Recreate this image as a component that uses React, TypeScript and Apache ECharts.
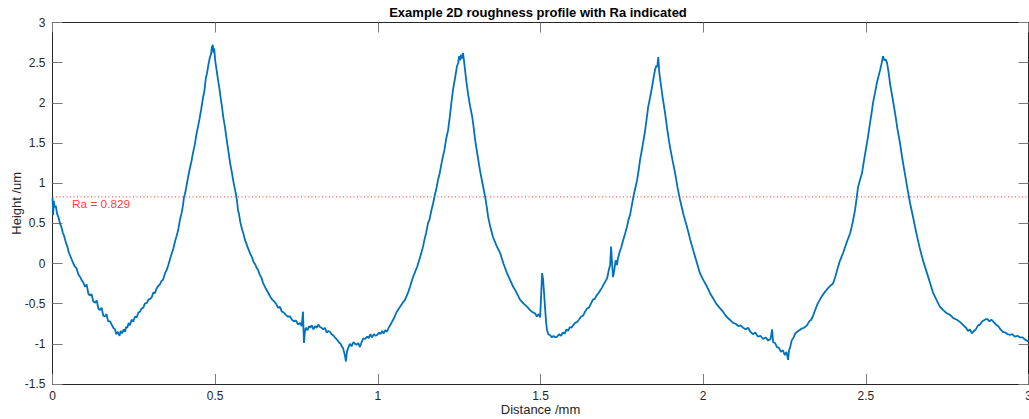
import React, { useEffect, useRef } from "react";
import * as echarts from "echarts";

const TITLE = "Example 2D roughness profile with Ra indicated";
const X_LABEL = "Distance /mm";
const Y_LABEL = "Height /um";
const RA = 0.829;
const RA_LABEL_POS: [number, number] = [0.06, 0.74];
const X_TICKS = [0, 0.5, 1, 1.5, 2, 2.5, 3];
const Y_TICKS = [-1.5, -1, -0.5, 0, 0.5, 1, 1.5, 2, 2.5, 3];

// distance (mm)
const distance: number[] = [
  0.000, 0.002, 0.004, 0.007, 0.010, 0.014, 0.018, 0.023, 0.027, 0.032, 0.036, 0.041, 0.045, 0.050, 0.054, 0.059, 0.064, 0.069, 0.074, 0.079,
  0.085, 0.090, 0.095, 0.100, 0.105, 0.110, 0.115, 0.120, 0.125, 0.131, 0.136, 0.141, 0.146, 0.151, 0.156, 0.161, 0.166, 0.171, 0.177, 0.182,
  0.187, 0.192, 0.196, 0.201, 0.206, 0.210, 0.214, 0.219, 0.223, 0.226, 0.230, 0.234, 0.238, 0.243, 0.248, 0.254, 0.259, 0.264, 0.269, 0.274,
  0.279, 0.284, 0.290, 0.295, 0.300, 0.305, 0.310, 0.315, 0.320, 0.325, 0.330, 0.335, 0.340, 0.346, 0.351, 0.356, 0.361, 0.366, 0.371, 0.377,
  0.382, 0.387, 0.392, 0.397, 0.401, 0.404, 0.408, 0.412, 0.417, 0.422, 0.427, 0.432, 0.437, 0.442, 0.447, 0.452, 0.457, 0.463, 0.467, 0.471,
  0.475, 0.479, 0.484, 0.487, 0.490, 0.493, 0.495, 0.497, 0.500, 0.504, 0.509, 0.513, 0.517, 0.521, 0.525, 0.530, 0.534, 0.538, 0.542, 0.546,
  0.551, 0.556, 0.561, 0.565, 0.568, 0.570, 0.573, 0.577, 0.580, 0.583, 0.587, 0.591, 0.595, 0.600, 0.604, 0.608, 0.613, 0.618, 0.623, 0.627,
  0.632, 0.637, 0.642, 0.647, 0.653, 0.658, 0.664, 0.669, 0.675, 0.681, 0.687, 0.693, 0.699, 0.705, 0.711, 0.717, 0.723, 0.730, 0.736, 0.742,
  0.748, 0.755, 0.761, 0.766, 0.770, 0.772, 0.773, 0.776, 0.779, 0.784, 0.788, 0.792, 0.797, 0.802, 0.807, 0.812, 0.817, 0.822, 0.827, 0.832,
  0.837, 0.843, 0.848, 0.853, 0.858, 0.864, 0.870, 0.875, 0.880, 0.886, 0.890, 0.893, 0.896, 0.899, 0.902, 0.905, 0.909, 0.914, 0.919, 0.925,
  0.930, 0.935, 0.940, 0.945, 0.950, 0.956, 0.961, 0.967, 0.972, 0.977, 0.982, 0.988, 0.993, 0.998, 1.003, 1.008, 1.013, 1.018, 1.023, 1.028,
  1.033, 1.038, 1.043, 1.047, 1.052, 1.057, 1.062, 1.068, 1.073, 1.078, 1.084, 1.089, 1.094, 1.099, 1.104, 1.110, 1.116, 1.121, 1.127, 1.133,
  1.139, 1.144, 1.149, 1.154, 1.159, 1.164, 1.170, 1.175, 1.180, 1.185, 1.190, 1.195, 1.200, 1.205, 1.210, 1.216, 1.221, 1.226, 1.231, 1.237,
  1.243, 1.247, 1.250, 1.253, 1.256, 1.259, 1.262, 1.265, 1.268, 1.272, 1.277, 1.283, 1.290, 1.295, 1.299, 1.306, 1.314, 1.322, 1.330, 1.335,
  1.339, 1.346, 1.354, 1.365, 1.376, 1.386, 1.397, 1.406, 1.416, 1.426, 1.437, 1.448, 1.459, 1.468, 1.477, 1.483, 1.489, 1.494, 1.499, 1.503,
  1.505, 1.508, 1.511, 1.514, 1.517, 1.520, 1.524, 1.529, 1.535, 1.540, 1.545, 1.551, 1.557, 1.563, 1.569, 1.575, 1.580, 1.585, 1.590, 1.595,
  1.600, 1.606, 1.612, 1.618, 1.625, 1.631, 1.637, 1.643, 1.649, 1.655, 1.661, 1.667, 1.672, 1.678, 1.683, 1.689, 1.694, 1.700, 1.705, 1.710,
  1.714, 1.717, 1.720, 1.723, 1.727, 1.731, 1.735, 1.738, 1.743, 1.748, 1.754, 1.760, 1.766, 1.771, 1.776, 1.781, 1.786, 1.791, 1.797, 1.802,
  1.806, 1.811, 1.816, 1.821, 1.826, 1.831, 1.837, 1.843, 1.847, 1.852, 1.856, 1.859, 1.862, 1.865, 1.868, 1.875, 1.883, 1.890, 1.898, 1.906,
  1.914, 1.921, 1.929, 1.940, 1.950, 1.960, 1.969, 1.980, 1.990, 2.001, 2.012, 2.021, 2.030, 2.040, 2.050, 2.061, 2.071, 2.082, 2.092, 2.100,
  2.108, 2.115, 2.123, 2.130, 2.138, 2.145, 2.153, 2.160, 2.168, 2.176, 2.184, 2.192, 2.200, 2.207, 2.212, 2.215, 2.221, 2.227, 2.233, 2.239,
  2.245, 2.251, 2.256, 2.261, 2.264, 2.267, 2.272, 2.278, 2.283, 2.289, 2.296, 2.303, 2.310, 2.319, 2.326, 2.332, 2.338, 2.345, 2.352, 2.359,
  2.366, 2.373, 2.381, 2.390, 2.399, 2.405, 2.412, 2.420, 2.430, 2.440, 2.452, 2.460, 2.467, 2.472, 2.476, 2.482, 2.488, 2.493, 2.498, 2.506,
  2.513, 2.518, 2.522, 2.528, 2.534, 2.539, 2.544, 2.549, 2.553, 2.557, 2.561, 2.565, 2.570, 2.574, 2.582, 2.590, 2.597, 2.605, 2.612, 2.620,
  2.628, 2.636, 2.644, 2.651, 2.659, 2.667, 2.677, 2.688, 2.698, 2.707, 2.718, 2.728, 2.738, 2.749, 2.759, 2.769, 2.780, 2.790, 2.800, 2.808,
  2.814, 2.820, 2.826, 2.832, 2.838, 2.845, 2.851, 2.858, 2.866, 2.873, 2.880, 2.886, 2.893, 2.900, 2.907, 2.914, 2.921, 2.929, 2.936, 2.943,
  2.950, 2.958, 2.966, 2.974, 2.982, 2.990, 3.000,
];

// height (um)
const height: number[] = [
  0.82, 0.60, 0.78, 0.70, 0.72, 0.62, 0.58, 0.50, 0.46, 0.38, 0.34, 0.26, 0.22, 0.14, 0.10, 0.05, 0.00, -0.04, -0.06, -0.13,
  -0.17, -0.21, -0.24, -0.29, -0.26, -0.37, -0.40, -0.38, -0.47, -0.49, -0.46, -0.56, -0.58, -0.55, -0.65, -0.66, -0.63, -0.72, -0.72, -0.76,
  -0.80, -0.82, -0.88, -0.85, -0.90, -0.84, -0.87, -0.82, -0.85, -0.79, -0.80, -0.74, -0.77, -0.70, -0.72, -0.66, -0.67, -0.61, -0.60, -0.56,
  -0.55, -0.50, -0.49, -0.45, -0.44, -0.42, -0.36, -0.37, -0.31, -0.28, -0.26, -0.22, -0.20, -0.12, -0.08, -0.02, 0.05, 0.12, 0.18, 0.28,
  0.35, 0.43, 0.55, 0.63, 0.72, 0.82, 0.88, 0.97, 1.08, 1.18, 1.27, 1.38, 1.47, 1.60, 1.70, 1.80, 1.92, 2.07, 2.15, 2.30,
  2.37, 2.47, 2.57, 2.60, 2.70, 2.72, 2.62, 2.68, 2.53, 2.42, 2.28, 2.18, 2.06, 1.95, 1.82, 1.70, 1.58, 1.47, 1.36, 1.25,
  1.14, 1.02, 0.92, 0.84, 0.75, 0.67, 0.62, 0.52, 0.47, 0.42, 0.37, 0.30, 0.26, 0.20, 0.16, 0.12, 0.08, 0.02, -0.01, -0.05,
  -0.08, -0.14, -0.17, -0.24, -0.29, -0.33, -0.37, -0.41, -0.45, -0.47, -0.50, -0.55, -0.54, -0.60, -0.61, -0.64, -0.66, -0.66, -0.70, -0.72,
  -0.71, -0.76, -0.74, -0.78, -0.60, -0.88, -0.99, -0.84, -0.80, -0.83, -0.78, -0.80, -0.77, -0.82, -0.78, -0.80, -0.76, -0.79, -0.80, -0.82,
  -0.80, -0.86, -0.84, -0.85, -0.88, -0.90, -0.93, -0.95, -0.98, -1.00, -1.04, -1.05, -1.10, -1.15, -1.22, -1.10, -1.05, -1.00, -1.03, -0.98,
  -1.00, -1.01, -0.99, -1.04, -0.98, -0.93, -0.94, -0.91, -0.93, -0.88, -0.92, -0.88, -0.90, -0.89, -0.86, -0.88, -0.84, -0.87, -0.83, -0.85,
  -0.80, -0.77, -0.73, -0.70, -0.66, -0.61, -0.58, -0.54, -0.51, -0.48, -0.45, -0.40, -0.35, -0.29, -0.22, -0.15, -0.09, -0.04, 0.04, 0.12,
  0.21, 0.31, 0.39, 0.50, 0.55, 0.65, 0.75, 0.85, 0.93, 1.04, 1.12, 1.23, 1.33, 1.42, 1.55, 1.66, 1.82, 2.00, 2.16, 2.30,
  2.45, 2.50, 2.58, 2.53, 2.60, 2.55, 2.62, 2.52, 2.41, 2.27, 2.12, 1.97, 1.83, 1.68, 1.54, 1.36, 1.16, 0.99, 0.83, 0.70,
  0.58, 0.45, 0.33, 0.22, 0.13, 0.00, -0.12, -0.20, -0.29, -0.36, -0.45, -0.50, -0.54, -0.58, -0.61, -0.62, -0.66, -0.63, -0.67, -0.30,
  -0.12, -0.20, -0.37, -0.55, -0.72, -0.83, -0.88, -0.89, -0.92, -0.90, -0.92, -0.91, -0.88, -0.90, -0.86, -0.87, -0.82, -0.84, -0.79, -0.80,
  -0.77, -0.74, -0.73, -0.70, -0.66, -0.65, -0.60, -0.56, -0.55, -0.50, -0.45, -0.44, -0.40, -0.37, -0.34, -0.30, -0.26, -0.22, -0.18, -0.08,
  -0.02, 0.21, 0.00, -0.17, -0.08, 0.04, -0.02, 0.06, 0.14, 0.20, 0.29, 0.37, 0.46, 0.55, 0.62, 0.73, 0.84, 0.93, 1.04, 1.17,
  1.29, 1.40, 1.52, 1.64, 1.79, 1.95, 2.07, 2.20, 2.30, 2.41, 2.46, 2.45, 2.57, 2.38, 2.29, 2.08, 1.87, 1.66, 1.45, 1.28,
  1.12, 0.95, 0.79, 0.60, 0.46, 0.30, 0.17, 0.02, -0.12, -0.21, -0.29, -0.37, -0.43, -0.50, -0.55, -0.60, -0.66, -0.70, -0.74, -0.75,
  -0.78, -0.77, -0.80, -0.82, -0.80, -0.85, -0.88, -0.86, -0.91, -0.90, -0.94, -0.92, -0.96, -0.94, -0.82, -0.98, -0.99, -1.04, -1.05, -1.10,
  -1.08, -1.14, -1.10, -1.20, -1.08, -1.05, -0.96, -0.92, -0.87, -0.85, -0.83, -0.81, -0.80, -0.77, -0.72, -0.70, -0.65, -0.57, -0.50, -0.45,
  -0.40, -0.36, -0.32, -0.28, -0.25, -0.18, -0.08, 0.03, 0.13, 0.25, 0.38, 0.52, 0.67, 0.82, 0.95, 1.04, 1.12, 1.25, 1.37, 1.56,
  1.75, 1.88, 2.00, 2.12, 2.25, 2.33, 2.41, 2.50, 2.58, 2.53, 2.54, 2.50, 2.38, 2.25, 2.06, 1.87, 1.68, 1.50, 1.31, 1.12,
  0.93, 0.75, 0.60, 0.46, 0.31, 0.17, 0.02, -0.12, -0.25, -0.37, -0.46, -0.54, -0.58, -0.62, -0.64, -0.68, -0.70, -0.73, -0.77, -0.80,
  -0.84, -0.82, -0.87, -0.84, -0.82, -0.77, -0.76, -0.72, -0.70, -0.69, -0.72, -0.70, -0.73, -0.76, -0.78, -0.82, -0.85, -0.86, -0.88, -0.89,
  -0.88, -0.91, -0.90, -0.92, -0.92, -0.95, -0.97,
];

const FONT = "'Liberation Sans', Arial, Helvetica, sans-serif";
const AXIS_COLOR = "#262626";

export default function App() {
  const ref = useRef<HTMLDivElement>(null);
  useEffect(() => {
    if (!ref.current) return;
    const chart = echarts.init(ref.current, null, { renderer: "svg" });
    const profile = distance.map((d, i) => [d, height[i]]);
    const xMin = X_TICKS[0];
    const xMax = X_TICKS[X_TICKS.length - 1];
    const yMin = Y_TICKS[0];
    const yMax = Y_TICKS[Y_TICKS.length - 1];
    const tickStep = 0.5;

    const baseAxis = {
      axisLine: { show: true, onZero: false, lineStyle: { color: AXIS_COLOR, width: 1 } },
      axisTick: { show: true, inside: true, length: 10, lineStyle: { color: "#7a7a7a", width: 1 } },
      splitLine: { show: false },
    };

    chart.setOption({
      animation: false,
      textStyle: { fontFamily: FONT },
      grid: {
        left: 52.5,
        right: 0.5,
        top: 22.5,
        bottom: 35,
        containLabel: false,
        outerBoundsMode: "none",
      },
      graphic: [
        {
          type: "text",
          x: 538,
          y: 12.5,
          style: {
            text: TITLE,
            fill: "#000",
            font: `bold 13px ${FONT}`,
            align: "center",
            verticalAlign: "middle",
          },
        },
      ],
      xAxis: [
        {
          ...baseAxis,
          type: "value",
          min: xMin,
          max: xMax,
          interval: tickStep,
          position: "bottom",
          name: X_LABEL,
          nameLocation: "middle",
          nameGap: 19,
          nameMoveOverlap: false,
          nameTextStyle: { color: AXIS_COLOR, fontSize: 13, fontFamily: FONT },
          axisLabel: { color: AXIS_COLOR, fontSize: 12, margin: 6, fontFamily: FONT },
        },
        {
          ...baseAxis,
          type: "value",
          min: xMin,
          max: xMax,
          interval: tickStep,
          position: "top",
          axisLabel: { show: false },
        },
      ],
      yAxis: [
        {
          ...baseAxis,
          type: "value",
          min: yMin,
          max: yMax,
          interval: tickStep,
          position: "left",
          name: Y_LABEL,
          nameLocation: "middle",
          nameGap: 30,
          nameMoveOverlap: false,
          nameTextStyle: { color: AXIS_COLOR, fontSize: 13, fontFamily: FONT },
          axisLabel: { color: AXIS_COLOR, fontSize: 12, margin: 7, fontFamily: FONT },
        },
        {
          ...baseAxis,
          type: "value",
          min: yMin,
          max: yMax,
          interval: tickStep,
          position: "right",
          axisLabel: { show: false },
        },
      ],
      series: [
        {
          type: "line",
          data: profile,
          xAxisIndex: 0,
          yAxisIndex: 0,
          showSymbol: false,
          symbol: "none",
          lineStyle: { color: "#0072BD", width: 1.8 },
          z: 2,
        },
        {
          type: "line",
          data: [
            [xMin, RA],
            [xMax, RA],
          ],
          xAxisIndex: 0,
          yAxisIndex: 0,
          symbol: "none",
          lineStyle: { color: "#FF3030", width: 1, type: [1, 2.5] },
          z: 1,
        },
        {
          type: "scatter",
          data: [RA_LABEL_POS],
          xAxisIndex: 0,
          yAxisIndex: 0,
          symbolSize: 0,
          label: {
            show: true,
            position: "right",
            distance: 0,
            formatter: `Ra = ${RA}`,
            color: "#FF0000",
            fontSize: 11.8,
            fontFamily: FONT,
          },
          z: 3,
        },
      ],
    });
    return () => chart.dispose();
  }, []);
  return (
    <div
      ref={ref}
      style={{ position: "fixed", left: 0, top: 0, width: 1029, height: 419, background: "#fff" }}
    />
  );
}
